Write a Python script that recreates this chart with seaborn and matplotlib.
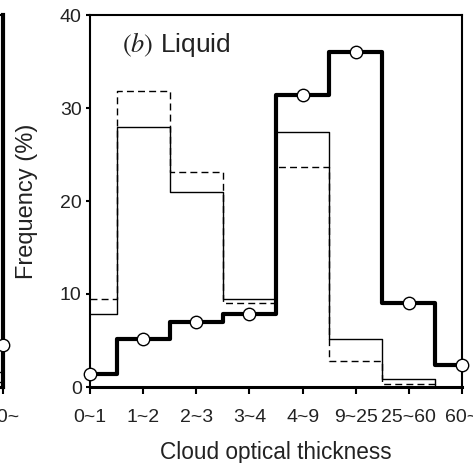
import matplotlib
matplotlib.use("Agg")
import matplotlib.pyplot as plt
import seaborn as sns
import numpy as np
import pandas as pd

sns.set_theme(style="white")
plt.rcParams['font.family'] = ['Liberation Sans', 'DejaVu Sans']
plt.rcParams['mathtext.fontset'] = 'stix'

# ---- data (panel b: Liquid) ----
categories = ["0~1", "1~2", "2~3", "3~4", "4~9", "9~25", "25~60", "60~"]
thick_vals = [1.4, 5.2, 7.0, 7.8, 31.4, 36.0, 9.0, 2.4]
solid_vals = [7.8, 28.0, 21.0, 9.5, 27.4, 5.2, 0.9, 0.0]
dashed_vals = [9.5, 31.8, 23.1, 9.0, 23.7, 2.8, 0.3, 0.0]
yticks = [0, 10, 20, 30, 40]

# ---- visible tail of panel a (last category only) ----
a_last_category = "60~"
a_thick_last = 4.5
a_solid_last = 1.6
a_dashed_last = 0.5

W, H = 473, 463
fig = plt.figure(figsize=(W / 100, H / 100), dpi=100)

ax_l, ax_r, ax_b, ax_t = 90, 462, 387, 15
axw = (ax_r - ax_l) / W
axh = (ax_b - ax_t) / H
ax = fig.add_axes([ax_l / W, 1 - ax_b / H, axw, axh])

df = pd.DataFrame({"x": np.arange(len(categories)),
                   "thick": thick_vals, "solid": solid_vals, "dashed": dashed_vals})

sns.lineplot(data=df, x="x", y="solid", ax=ax, color="black", lw=1.0,
             drawstyle="steps-mid", zorder=2)
sns.lineplot(data=df, x="x", y="dashed", ax=ax, color="black", lw=1.0,
             drawstyle="steps-mid", dashes=False, zorder=2).lines[-1].set_dashes([5, 3])
sns.lineplot(data=df, x="x", y="thick", ax=ax, color="black", lw=3.0,
             drawstyle="steps-mid", zorder=3)
sns.scatterplot(data=df, x="x", y="thick", ax=ax, s=80, facecolor="white",
                edgecolor="black", linewidth=1.0, zorder=5, clip_on=False)

txt_color = "#222222"
ax.set_xlim(0, len(categories) - 1)
ax.set_ylim(0, 40)
ax.set_xticks(np.arange(len(categories)))
ax.set_xticklabels(categories)
ax.set_yticks(yticks)
ax.set_xlabel("Cloud optical thickness", fontsize=16.3, labelpad=11.5, color=txt_color)
ax.set_ylabel("Frequency (%)", fontsize=17, labelpad=16, color=txt_color)
ax.tick_params(axis="x", direction="out", length=5, width=1.5, labelsize=14,
               pad=10.5, bottom=True, color="black", labelcolor=txt_color)
ax.tick_params(axis="y", direction="out", length=3, width=1.5, labelsize=14,
               pad=3, left=True, color="black", labelcolor=txt_color)
for s in ["left", "right", "top"]:
    ax.spines[s].set_linewidth(1.5)
    ax.spines[s].set_color("black")
ax.spines["bottom"].set_linewidth(2.2)
ax.spines["bottom"].set_color("black")
ax.text(0.086, 0.901, r"$(b)$ Liquid", transform=ax.transAxes, fontsize=19,
        ha="left", va="baseline", color=txt_color)

# ---- partial panel a on the left edge ----
right_a = 3
axa = fig.add_axes([(right_a - (ax_r - ax_l)) / W, 1 - ax_b / H, axw, axh])
n = len(categories)
xa = [n - 1.5, n - 1]
axa.plot(xa, [a_solid_last] * 2, color="black", lw=1.0, zorder=2)
axa.plot(xa, [a_dashed_last] * 2, color="black", lw=1.0, dashes=[5, 3], zorder=2)
axa.plot(xa, [a_thick_last] * 2, color="black", lw=3.0, zorder=3)
axa.scatter([n - 1], [a_thick_last], s=80, facecolor="white", edgecolor="black",
            linewidth=1.0, zorder=5, clip_on=False)
axa.set_xlim(0, n - 1)
axa.set_ylim(0, 40)
axa.set_xticks([n - 1])
axa.set_xticklabels([a_last_category])
axa.set_yticks([])
axa.tick_params(axis="x", direction="out", length=5, width=1.5, labelsize=14,
                pad=10.5, bottom=True, color="black", labelcolor=txt_color)
for s in ["left", "right", "top"]:
    axa.spines[s].set_linewidth(1.5)
    axa.spines[s].set_color("black")
axa.spines["right"].set_linewidth(3.0)
axa.spines["bottom"].set_linewidth(2.2)
axa.spines["bottom"].set_color("black")
axa.set_xlabel("")
axa.set_ylabel("")

fig.savefig("out.png", dpi=100)
